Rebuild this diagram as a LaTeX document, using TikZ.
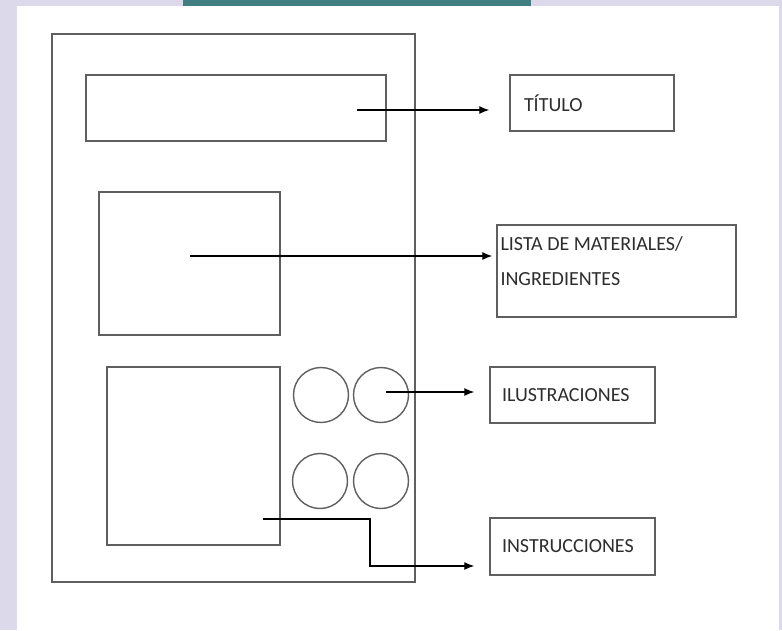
\documentclass[tikz,border=0pt]{standalone}
\usepackage{fontspec}
\setmainfont{Carlito}
\usetikzlibrary{arrows.meta}
\definecolor{lilac}{RGB}{220,218,234}
\definecolor{teal}{RGB}{64,126,130}
\definecolor{edge}{RGB}{95,95,95}
\definecolor{ink}{RGB}{45,45,45}
\begin{document}
\begin{tikzpicture}[x=1pt,y=-1pt,
    frame/.style={draw=edge,line width=1.4pt,inner sep=0pt},
    tag/.style={frame,align=left,text=ink,font=\fontsize{20}{35}\selectfont},
    arr/.style={-{Latex[length=10pt,width=8pt]},line width=1.3pt}]
  \useasboundingbox (0,0) rectangle (782,630);
  \fill[lilac] (0,0) rectangle (782,630);
  \fill[white] (17,6) rectangle (779,630);
  \fill[teal] (183,0) rectangle (531,6);
  % the sheet
  \node[frame,minimum width=363,minimum height=548] (page) at (233.5,308) {};
  \node[frame,minimum width=300,minimum height=66] (titlebar) at (236,108) {};
  \node[frame,minimum width=181,minimum height=143] (listbox) at (189.5,263.5) {};
  \node[frame,minimum width=173,minimum height=178] (stepsbox) at (193.5,456) {};
  \foreach \n/\x/\y in {c1/321/395,c2/381/395,c3/320/481,c4/381/481}
    \node[frame,circle,minimum size=55] (\n) at (\x,\y) {};
  % the labels
  \node[tag,minimum width=164,minimum height=56,text width=136,inner xsep=14] (titulo) at (592,103) {TÍTULO};
  \node[frame,minimum width=239,minimum height=92] (lista) at (616.5,271) {};
  \node[anchor=base west,align=left,text=ink,inner sep=0pt,font=\fontsize{20}{35}\selectfont,
    xshift=4pt,yshift=-61pt] (listatext) at (lista.north west) {LISTA DE MATERIALES/\\INGREDIENTES};
  \node[tag,minimum width=165,minimum height=56,text width=141,inner xsep=12] (ilus) at (572.5,395) {ILUSTRACIONES};
  \node[tag,minimum width=165,minimum height=57,text width=141,inner xsep=12] (instr) at (572.5,546.5) {INSTRUCCIONES};
  % connectors
  \coordinate (tstart) at (357,110);
  \coordinate (lstart) at (190,256);
  \coordinate (cstart) at (386,392);
  \coordinate (istart) at (263,519);
  \coordinate (ibend) at (370,519);
  \coordinate (iend) at (370,566);
  \draw[arr,shorten >=20pt] (tstart) -- (tstart -| titulo.west);
  \draw[arr,shorten >=4pt] (lstart) -- (lstart -| lista.west);
  \draw[arr,shorten >=15pt] (cstart) -- (cstart -| ilus.west);
  \draw[arr,shorten >=15pt] (istart) -- (ibend) -- (iend) -- (iend -| instr.west);
\end{tikzpicture}
\end{document}
